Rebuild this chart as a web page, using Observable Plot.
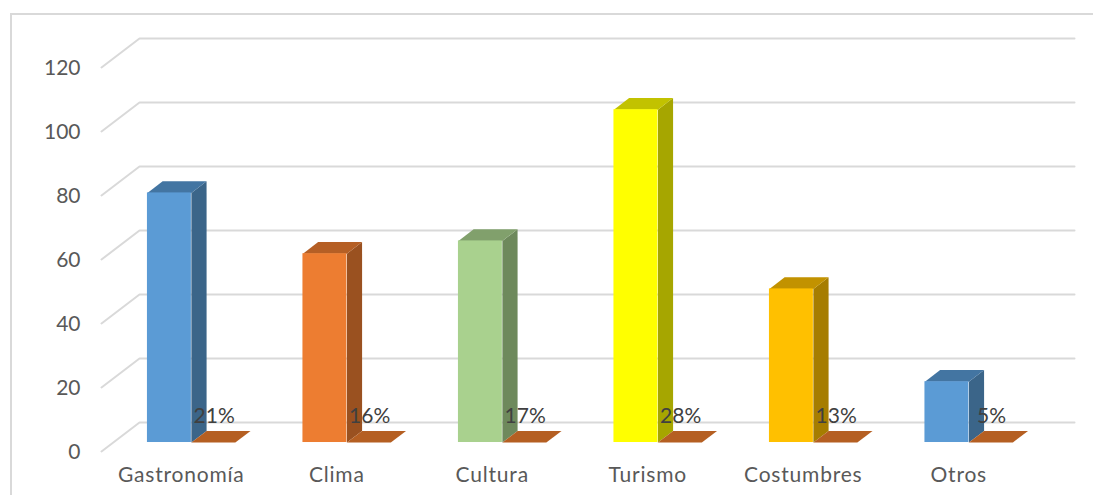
<!DOCTYPE html>
<html><head><meta charset="utf-8">
<style>
html,body{margin:0;padding:0;background:#fff;overflow:hidden}
#wrap{position:relative;width:1093px;height:495px}
#edge{position:absolute;left:10px;top:13px;right:0;bottom:0;border-left:2px solid #D9D9D9;border-top:2px solid #D9D9D9}
#chart{position:absolute;left:0;top:0}
svg{display:block;background:transparent !important}
.cat text{letter-spacing:.8px}
</style>
<script src="https://cdn.jsdelivr.net/npm/d3@7"></script>
<script src="https://cdn.jsdelivr.net/npm/@observablehq/plot@0.6"></script>
</head><body>
<div id="wrap"><div id="edge"></div><div id="chart"></div></div>
<script>
const categories = ["Gastronomía","Clima","Cultura","Turismo","Costumbres","Otros"];
const values = [78,59,63,104,48,19];
const percents = ["21%","16%","17%","28%","13%","5%"];
const frontColors = ["#5B9BD5","#ED7D31","#A9D18E","#FFFF00","#FFC000","#5B9BD5"];
const topColors = ["#4375A2","#B55F25","#81A06C","#C2C200","#C29200","#4375A2"];
const sideColors = ["#3B6589","#9A5120","#6E895C","#A6A600","#A67D00","#3B6589"];
const plateColor = "#B55F22";
const yTicks = [0,20,40,60,80,100,120];

// oblique projection, expressed in data units
const depthX = 38/155.5, depthY = 29/3.2;
const px = (s,d) => s + d*depthX;
const py = (v,d) => v + d*depthY;
const d0 = 0.31, d1 = 0.71;
const barStart = 0.2197, barW = 0.2826;

const bars = categories.map((c,i)=>({c,i,v:values[i],p:percents[i],x0:i+barStart,x1:i+barStart+barW}));

const gridPts = yTicks.flatMap(v=>[
  {v,x:0,y:v},
  {v,x:depthX,y:py(v,1)},
  {v,x:6.013+depthX,y:py(v,1)}
]);
const sideFace = bars.flatMap(b=>[[px(b.x1,d0),py(0,d0)],[px(b.x1,d1),py(0,d1)],[px(b.x1,d1),py(b.v,d1)],[px(b.x1,d0),py(b.v,d0)]]
  .map(([x,y])=>({x,y,k:b.i,col:sideColors[b.i]})));
const topFace = bars.flatMap(b=>[[px(b.x0,d0),py(b.v,d0)],[px(b.x1,d0),py(b.v,d0)],[px(b.x1,d1),py(b.v,d1)],[px(b.x0,d1),py(b.v,d1)]]
  .map(([x,y])=>({x,y,k:b.i,col:topColors[b.i]})));
const plate = bars.flatMap(b=>[[px(b.x1,d0),py(0,d0)],[px(b.x1+barW,d0),py(0,d0)],[px(b.x1+barW,d1),py(0,d1)],[px(b.x1,d1),py(0,d1)]]
  .map(([x,y])=>({x,y,k:b.i})));

const font = "Lato, Carlito, Calibri, sans-serif";
const chart = Plot.plot({
  width:1093, height:495,
  marginLeft:101, marginRight:59, marginTop:67, marginBottom:44,
  style:{fontFamily:font, background:"transparent"},
  x:{domain:[0,6], axis:null},
  y:{domain:[0,120], axis:null},
  marks:[
    Plot.line(gridPts,{x:"x",y:"y",z:"v",stroke:"#D9D9D9",strokeWidth:2}),
    Plot.axisY({ticks:yTicks,tickSize:0,tickPadding:21,fontSize:21,fill:"#595959",label:null,dy:1}),
    Plot.line(sideFace,{x:"x",y:"y",z:"k",fill:"col",stroke:null}),
    Plot.line(topFace,{x:"x",y:"y",z:"k",fill:"col",stroke:null}),
    Plot.rect(bars,{x1:d=>px(d.x0,d0),x2:d=>px(d.x1,d0),y1:()=>py(0,d0),y2:d=>py(d.v,d0),fill:(d,i)=>frontColors[i],inset:0}),
    Plot.line(plate,{x:"x",y:"y",z:"k",fill:plateColor,stroke:null}),
    Plot.text(bars,{x:d=>px(d.x1+barW*0.54,d0),y:()=>11,dx:-1,text:"p",fontSize:21,fill:"#404040"}),
    Plot.text(bars,{x:d=>d.i+0.5,frameAnchor:"bottom",dx:2,dy:30,text:"c",fontSize:21,fill:"#595959",className:"cat"})
  ]
});
document.getElementById("chart").appendChild(chart);
</script>
</body></html>
